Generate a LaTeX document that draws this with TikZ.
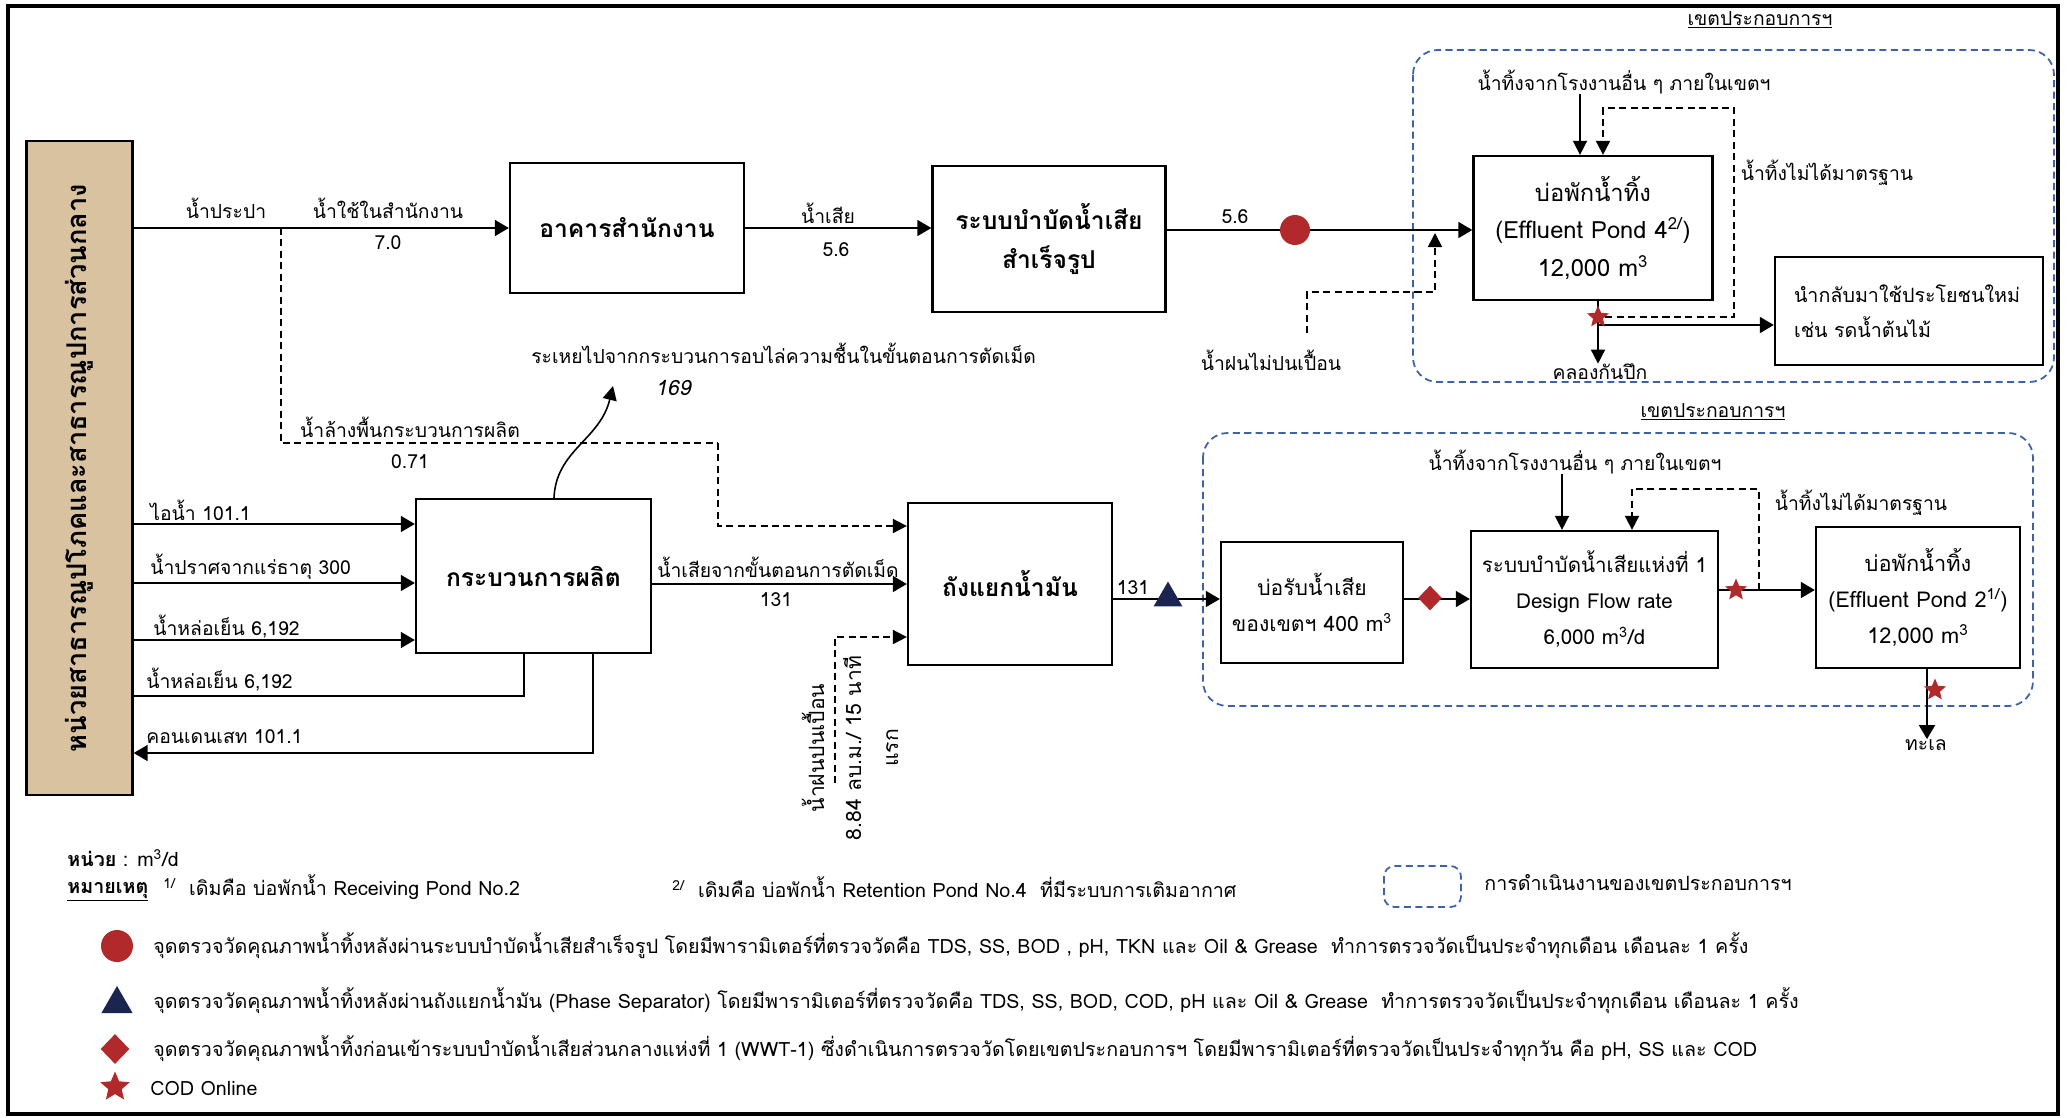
\documentclass[tikz,border=0pt]{standalone}
\usepackage{fontspec}
\setmainfont[Script=Thai]{Loma}
\newfontfamily\slantfont[Script=Thai, FakeSlant=0.2]{Loma}
\usetikzlibrary{arrows.meta,shapes.geometric}

\definecolor{spotred}{HTML}{B2292B}
\definecolor{spotnavy}{HTML}{1A2550}
\definecolor{zoneblue}{HTML}{3D62A6}
\definecolor{hubtan}{HTML}{D8C2A0}

\tikzset{
  box/.style={draw, line width=1.3pt, align=center, inner sep=2pt},
  ttl/.style={font=\fontsize{14}{22}\selectfont\bfseries},
  txt/.style={font=\fontsize{12}{20.5}\selectfont},
  lbl/.style={font=\fontsize{11}{13}\selectfont, inner sep=0pt},
  keytxt/.style={font=\fontsize{11.2}{13}\selectfont, inner sep=0pt, anchor=west},
  pipe/.style={line width=1.3pt},
  flow/.style={pipe, -{Triangle[length=8pt,width=9pt]}},
  thinflow/.style={line width=0.9pt, -{Triangle[length=8pt,width=8pt]}},
  dpipe/.style={line width=1pt, dash pattern=on 4pt off 2.5pt},
  dflow/.style={dpipe, -{Triangle[length=8pt,width=8pt]}},
  zone/.style={draw=zoneblue, line width=1pt, dash pattern=on 4pt off 2.5pt, rounded corners=14pt},
  spotdot/.style={circle, fill=spotred, minimum size=0.6cm, inner sep=0pt},
  spottri/.style={regular polygon, regular polygon sides=3, fill=spotnavy, minimum size=0.66cm, inner sep=0pt},
  spotdia/.style={diamond, fill=spotred, minimum width=0.48cm, minimum height=0.5cm, inner sep=0pt},
  spotstar/.style={star, star points=5, star point ratio=2.2, fill=spotred, minimum size=0.46cm, inner sep=0pt},
}

\begin{document}
\begin{tikzpicture}[x=0.02cm, y=-0.02cm]
    \fill[white] (0,0) rectangle (2067,1117);
    \draw[line width=2pt] (8,6) rectangle (2058,1114);

    % zones of the industrial estate
    \draw[zone] (1413,50) rectangle (2054,382);
    \draw[zone] (1203,433) rectangle (2033,706);
    \node[lbl] (zonetop) at (1760,20) {\underline{เขตประกอบการฯ}};
    \node[lbl] (zonemid) at (1713,412) {\underline{เขตประกอบการฯ}};

    % boxes
    \node[box, fill=hubtan, minimum width=2.12cm, minimum height=13.08cm] (hub) at (79.5,468) {};
    \node[ttl, font=\fontsize{15.5}{18}\selectfont\bfseries, rotate=90] (hubname) at (hub.center) {หน่วยสาธารณูปโภคและสาธารณูปการส่วนกลาง};
    \node[box, ttl, minimum width=4.68cm, minimum height=2.6cm] (office) at (627,228) {อาคารสำนักงาน};
    \node[box, ttl, minimum width=4.66cm, minimum height=2.92cm] (treat) at (1049,239) {ระบบบำบัดน้ำเสีย\\สำเร็จรูป};
    \node[box, txt, font=\fontsize{13.5}{21.5}\selectfont, minimum width=4.78cm, minimum height=2.88cm] (pond4) at (1593,228) {บ่อพักน้ำทิ้ง\\(Effluent Pond 4\textsuperscript{2/})\\12,000 m\textsuperscript{3}};
    \node[box, txt, font=\fontsize{11.2}{20}\selectfont, align=left, text width=4.6cm, minimum width=5.36cm, minimum height=2.16cm] (reuse) at (1909,311) {นำกลับมาใช้ประโยชนใหม่\\เช่น รดน้ำต้นไม้};
    \node[box, ttl, minimum width=4.70cm, minimum height=3.08cm] (prod) at (533.5,576) {กระบวนการผลิต};
    \node[box, ttl, minimum width=4.08cm, minimum height=3.24cm] (sep) at (1010,584) {ถังแยกน้ำมัน};
    \node[box, txt, minimum width=3.64cm, minimum height=2.42cm] (recv) at (1312,602.5) {บ่อรับน้ำเสีย\\ของเขตฯ 400 m\textsuperscript{3}};
    \node[box, txt, font=\fontsize{11.7}{20.5}\selectfont, minimum width=4.94cm, minimum height=2.74cm] (wwt) at (1594.5,599.5) {ระบบบำบัดน้ำเสียแห่งที่ 1\\Design Flow rate\\6,000 m\textsuperscript{3}/d};
    \node[box, txt, font=\fontsize{12.4}{20.5}\selectfont, minimum width=4.08cm, minimum height=2.82cm] (pond2) at (1918,597.5) {บ่อพักน้ำทิ้ง\\(Effluent Pond 2\textsuperscript{1/})\\12,000 m\textsuperscript{3}};

    % office line
    \draw[flow] (hub.east |- office.west) -- (office.west);
    \node[lbl] (tapL) at (226,208) {น้ำประปา};
    \node[lbl] (useL) at (388,208) {น้ำใช้ในสำนักงาน};
    \node[lbl] (useV) at (388,243) {7.0};
    \coordinate (tap) at (281,228);
    \coordinate (washR) at (718,443);
    \draw[dpipe] (tap) |- (washR);
    \draw[dflow] (washR) |- (sep.west |- 0,526);
    \node[lbl] (washL) at (410,427) {น้ำล้างพื้นกระบวนการผลิต};
    \node[lbl] (washV) at (410,462) {0.71};

    \draw[flow] (office.east) -- (office.east -| treat.west);
    \node[lbl] (wasteL) at (828,213) {น้ำเสีย};
    \node[lbl] (wasteV) at (836,250) {5.6};

    \draw[flow] (treat.east |- 0,230) -- (pond4.west |- 0,230);
    \node[spotdot] (spot1) at (1295,230) {};
    \node[lbl] (treatV) at (1235,217) {5.6};

    % clean rain water
    \node[lbl] (rainok) at (1271,360) {น้ำฝนไม่ปนเปื้อน};
    \coordinate (rainokB) at (1307,333);
    \coordinate (rainokT) at (1435,233);
    \draw[dflow] (rainokB) |- (rainokT |- 0,292) -- (rainokT);

    % effluent pond 4
    \node[lbl] (others4) at (1624,82) {น้ำทิ้งจากโรงงานอื่น ๆ ภายในเขตฯ};
    \draw[thinflow] (others4.south -| 1580,0) -- (1580,0 |- pond4.north);
    \node[lbl] (canal) at (1600,372) {คลองกันปึก};
    \draw[thinflow] (pond4.south -| 1598,0) -- (1598,0 |- canal.north);
    \draw[flow] (1598,325) -- (reuse.west |- 0,325);
    \node[spotstar] (star4) at (1598,317) {};
    \draw[dflow] (star4.east) -| (1734,108) -| (1603,0 |- pond4.north);
    \node[lbl] (bad4) at (1827,173) {น้ำทิ้งไม่ได้มาตรฐาน};

    % production
    \draw[thinflow] (prod.north -| 554,0) .. controls (556,450) and (600,440) .. (613,386);
    \node[lbl, anchor=west] (evapL) at (531,353) {ระเหยไปจากกระบวนการอบไล่ความชื้นในขั้นตอนการตัดเม็ด};
    \node[lbl, font=\fontsize{12}{14}\slantfont] (evapV) at (673,388) {169};

    \draw[flow] (hub.east |- 0,524) -- (prod.west |- 0,524);
    \node[lbl, anchor=west] (steamL) at (150,510) {ไอน้ำ 101.1};
    \draw[flow] (hub.east |- 0,583) -- (prod.west |- 0,583);
    \node[lbl, anchor=west] (demiL) at (150,567) {น้ำปราศจากแร่ธาตุ 300};
    \draw[flow] (hub.east |- 0,640) -- (prod.west |- 0,640);
    \node[lbl, anchor=west] (coolinL) at (153,627) {น้ำหล่อเย็น 6,192};
    \draw[pipe] (prod.south -| 524,0) |- (hub.east |- 0,696);
    \node[lbl, anchor=west] (cooloutL) at (146,680) {น้ำหล่อเย็น 6,192};
    \draw[flow] (prod.south -| 593,0) |- (hub.east |- 0,753);
    \node[lbl, anchor=west] (condL) at (146,737) {คอนเดนเสท 101.1};

    \draw[flow] (sep.west -| prod.east) -- (sep.west);
    \node[lbl] (cutL) at (778,567) {น้ำเสียจากขั้นตอนการตัดเม็ด};
    \node[lbl] (cutV) at (776,600) {131};

    % contaminated rain water
    \coordinate (raindirtyB) at (835,783);
    \draw[dflow] (raindirtyB) |- (sep.west |- 0,637);
    \node[lbl, rotate=90, align=center, font=\fontsize{12}{21}\selectfont] (raindirty) at (850,748) {น้ำฝนปนเปื้อน\\8.84 ลบ.ม./ 15 นาที\\แรก};

    % central treatment
    \draw[flow] (sep.east |- 0,599) -- (recv.west |- 0,599);
    \node[spottri] (spot2) at (1168,598) {};
    \node[lbl] (sepV) at (1133,588) {131};
    \draw[flow] (recv.east |- 0,599) -- (wwt.west |- 0,599);
    \node[spotdia] (spot3) at (1430,598) {};

    \node[lbl] (others1) at (1575,462) {น้ำทิ้งจากโรงงานอื่น ๆ ภายในเขตฯ};
    \draw[thinflow] (others1.south -| 1562,0) -- (1562,0 |- wwt.north);
    \draw[flow] (wwt.east |- 0,590) -- (pond2.west |- 0,590);
    \node[spotstar] (star1) at (1736,590) {};
    \draw[dflow] (1759,590) |- (1632,489) -- (1632,0 |- wwt.north);
    \node[lbl] (bad1) at (1861,503) {น้ำทิ้งไม่ได้มาตรฐาน};

    \node[lbl] (sea) at (1926,745) {ทะเล};
    \draw[flow] (pond2.south -| 1927,0) -- (1927,0 |- sea.north);
    \node[spotstar] (star2) at (1935,690) {};

    % legend
    \node[keytxt] (unit) at (67,858) {\textbf{หน่วย} : m\textsuperscript{3}/d};
    \node[keytxt] (notehead) at (67,892) {\underline{\textbf{หมายเหตุ}}};
    \node[keytxt] (note1) at (163,887) {\textsuperscript{1/}\ \ เดิมคือ บ่อพักน้ำ Receiving Pond No.2};
    \node[keytxt] (note2) at (672,887) {\textsuperscript{2/}\ \ เดิมคือ บ่อพักน้ำ Retention Pond No.4\ \ ที่มีระบบการเติมอากาศ};
    \draw[zone, rounded corners=6pt] (1384,866) rectangle (1461,907);
    \node[keytxt] (notezone) at (1484,883) {การดำเนินงานของเขตประกอบการฯ};

    \node[spotdot, minimum size=0.64cm] (keydot) at (117,946) {};
    \node[keytxt] (keydotL) at (153,946) {จุดตรวจวัดคุณภาพน้ำทิ้งหลังผ่านระบบบำบัดน้ำเสียสำเร็จรูป โดยมีพารามิเตอร์ที่ตรวจวัดคือ TDS, SS, BOD , pH, TKN และ Oil \& Grease\ \ ทำการตรวจวัดเป็นประจำทุกเดือน เดือนละ 1 ครั้ง};
    \node[spottri, minimum size=0.72cm] (keytri) at (117,1004) {};
    \node[keytxt] (keytriL) at (153,1001) {จุดตรวจวัดคุณภาพน้ำทิ้งหลังผ่านถังแยกน้ำมัน (Phase Separator) โดยมีพารามิเตอร์ที่ตรวจวัดคือ TDS, SS, BOD, COD, pH และ Oil \& Grease\ \ ทำการตรวจวัดเป็นประจำทุกเดือน เดือนละ 1 ครั้ง};
    \node[spotdia, minimum width=0.58cm, minimum height=0.6cm] (keydia) at (115,1049) {};
    \node[keytxt] (keydiaL) at (153,1049) {จุดตรวจวัดคุณภาพน้ำทิ้งก่อนเข้าระบบบำบัดน้ำเสียส่วนกลางแห่งที่ 1 (WWT-1) ซึ่งดำเนินการตรวจวัดโดยเขตประกอบการฯ โดยมีพารามิเตอร์ที่ตรวจวัดเป็นประจำทุกวัน คือ pH, SS และ COD};
    \node[spotstar, minimum size=0.62cm] (keystar) at (115,1087) {};
    \node[keytxt] (keystarL) at (150,1088) {COD Online};
\end{tikzpicture}
\end{document}
